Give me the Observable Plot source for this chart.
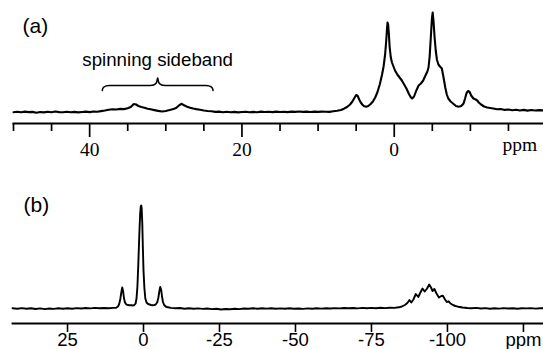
<!DOCTYPE html>
<html><head><meta charset="utf-8">
<script src="https://cdn.jsdelivr.net/npm/d3@7"></script>
<script src="https://cdn.jsdelivr.net/npm/@observablehq/plot@0.6"></script>
<style>
body{margin:0;background:#fff;}
#chart{width:543px;height:349px;position:relative;overflow:hidden;}
#chart svg{display:block;}
</style></head><body><div id="chart"></div>
<script>
// ---------- Panel (a) data: chemical shift (ppm) and intensity ----------
const specA = [
[50,0.3],[49.5,0.8],[49,0.2],[48.5,0.9],[48,0.4],[47.5,0.6],[47,-0.2],[46.5,0.5],[46,0.1],[45.5,0.7],
[45,0.3],[44.5,1.0],[44,0.4],[43.5,0.2],[43,0.8],[42.5,0.3],[42,0.6],[41.5,0.1],[41,0.5],[40.5,0.9],
[40,0.4],[39.5,1.0],[39,0.7],[38.5,1.4],[38,2.0],[37.5,2.8],[37,3.2],[36.5,3.0],[36,3.6],[35.5,3.4],
[35,4.2],[34.6,5.5],[34.2,8.5],[33.9,8.0],[33.6,6.5],[33.2,5.5],[32.8,4.8],[32.4,3.8],[32,3.2],[31.5,2.4],
[31,1.6],[30.5,1.0],[30,1.5],[29.5,2.4],[29,3.4],[28.6,4.8],[28.2,7.5],[27.9,8.7],[27.6,7.2],[27.2,5.8],
[26.8,4.8],[26.4,4.0],[26,3.4],[25.5,2.8],[25,2.0],[24.5,1.5],[24,1.2],[23.5,0.6],[23,0.9],[22.5,0.3],
[22,0.7],[21.5,0.2],[21,0.6],[20.5,0.1],[20,0.5],[19.5,0.8],[19,0.2],[18.5,0.6],[18,0.3],[17.5,0.9],
[17,0.5],[16.5,0.8],[16,0.4],[15.5,0.9],[15,0.5],[14.5,0.8],[14,0.4],[13.5,0.9],[13,0.6],[12.5,1.0],
[12,0.6],[11.5,0.9],[11,0.5],[10.5,0.9],[10,0.6],[9.5,0.9],[9,0.7],[8.5,0.6],[8,1.2],[7.5,1.8],
[7,2.5],[6.6,3.8],[6.2,5.5],[5.8,8.0],[5.5,11],[5.2,15],[5.0,17.5],[4.8,16.5],[4.6,13],[4.4,10],
[4.2,8],[4.0,6.5],[3.7,5.8],[3.4,6.5],[3.1,8.5],[2.8,11],[2.5,15],[2.2,20.5],[1.9,28],[1.6,38],
[1.4,46],[1.2,58],[1.05,72],[0.95,84],[0.88,90],[0.8,88],[0.7,78],[0.6,65],[0.45,55],[0.3,50],
[0.1,46],[-0.1,42],[-0.4,38],[-0.7,35],[-1.0,32],[-1.3,28],[-1.6,24],[-1.9,19],[-2.15,15.5],[-2.35,14],
[-2.6,16],[-2.9,22],[-3.2,27],[-3.5,29],[-3.8,32],[-4.1,37],[-4.35,41],[-4.5,45],[-4.65,56],[-4.8,75],
[-4.95,94],[-5.05,100],[-5.15,92],[-5.3,75],[-5.45,62],[-5.6,53],[-5.8,48],[-6.0,46],[-6.25,44],[-6.45,36],
[-6.7,25],[-6.9,18],[-7.1,14],[-7.4,11],[-7.8,8.5],[-8.1,6.5],[-8.45,5.8],[-8.8,6.5],[-9.1,9],[-9.3,14],
[-9.5,19.5],[-9.7,21.5],[-9.9,20.5],[-10.1,17],[-10.4,14],[-10.7,13],[-10.9,12],[-11.1,10],[-11.4,8],[-11.8,6],
[-12.2,5],[-12.6,4.5],[-13,4],[-13.5,3.2],[-14,3.5],[-14.5,2.6],[-15,3],[-15.5,2.2],[-16,2.7],[-16.5,2.0],
[-17,2.6],[-17.5,1.9],[-18,2.5],[-18.5,2.0],[-19,2.4],[-19.6,2.1]
];
const aMajorTicks = [40, 20, 0];
const aMajorLabels = ["40", "20", "0"];
const aMinorTicks = [50, 45, 35, 30, 25, 15, 10, 5, -5, -10, -15];
const aUnit = ["ppm"];
const aUnitPos = [-16.5];
const braceA = [
[38.35,22],[38.2,25],[37.8,26.6],[37.2,27],[32.3,27],[31.6,27.5],[31.25,29.5],[31.07,34.5],
[30.89,29.5],[30.54,27.5],[29.84,27],[24.94,27],[24.34,26.6],[23.94,25],[23.79,22]
];
const annotA = [{x: 31.07, y: 47, text: "spinning sideband"}];
const panelLabels = ["(a)", "(b)"];

// ---------- Panel (b) data ----------
const specB = [
[43.1,0.3],[41.5,-0.2],[40,0.4],[38.5,-0.3],[37,0.2],[35.5,-0.5],[34,0.1],[32.5,-0.6],[31,0.0],[29.5,-0.4],
[28,0.2],[26.5,-0.3],[25,0.3],[23.5,-0.2],[22,0.4],[20.5,0.0],[19,0.5],[17.5,0.1],[16,0.6],[14.5,0.2],
[13,0.5],[11.5,0.3],[10,0.6],[9,0.8],[8.4,2.0],[8.0,4.5],[7.6,10],[7.3,16],[7.0,21],[6.7,17],
[6.4,10],[6.1,6],[5.7,4.2],[5.2,3.5],[4.6,3.3],[4.0,3.2],[3.5,3.0],[3.0,3.5],[2.6,5],[2.3,10],
[2.0,22],[1.7,45],[1.4,72],[1.1,95],[0.9,102],[0.75,103],[0.6,100],[0.4,85],[0.2,60],[0.0,38],
[-0.3,20],[-0.6,10],[-1.0,6],[-1.5,4.5],[-2.0,4],[-2.5,3.5],[-3.0,3.3],[-3.5,3.4],[-4.0,4],[-4.5,6],
[-4.9,11],[-5.2,17],[-5.5,21.5],[-5.8,19],[-6.1,12],[-6.4,6.5],[-6.8,3.5],[-7.3,2],[-8,1.2],[-9,0.6],
[-10.5,0.2],[-12,0.5],[-13.5,-0.2],[-15,0.3],[-16.5,-0.3],[-18,0.1],[-19.5,-0.4],[-21,0.0],[-22.5,-0.6],[-24,-0.3],
[-25.5,-1.0],[-27,-0.5],[-28.5,-0.8],[-30,-0.2],[-31.5,-0.6],[-33,0.0],[-34.5,-0.3],[-36,0.2],[-37.5,-0.2],[-39,0.3],
[-40.5,-0.1],[-42,0.3],[-43.5,-0.2],[-45,0.1],[-46.5,-0.3],[-48,0.2],[-49.5,-0.2],[-51,0.0],[-52.5,-0.4],[-54,0.1],
[-55.5,-0.2],[-57,0.2],[-58.5,-0.1],[-60,0.3],[-61.5,0.0],[-63,0.4],[-64.5,0.1],[-66,0.5],[-67.5,0.2],[-69,0.5],
[-70.5,0.1],[-72,0.6],[-73.5,0.3],[-75,0.6],[-76.5,0.3],[-78,0.7],[-79.5,0.4],[-81,0.8],[-82.5,0.6],[-84,1.2],
[-85,2],[-86,3.5],[-86.8,5.5],[-87.5,8.5],[-88.1,6],[-88.8,9],[-89.6,14.5],[-90.4,11.5],[-91.1,16],[-91.8,20],
[-92.5,17],[-93.3,20],[-94.0,24],[-94.6,21],[-95.1,17.5],[-95.7,19.5],[-96.4,15],[-97.2,11],[-98.0,12.5],[-98.5,12.8],
[-99.2,9],[-99.8,6.5],[-100.4,7.2],[-101,5],[-101.8,3.5],[-102.6,2.5],[-103.5,1.8],[-105,1],[-106.5,0.5],[-108,0.2],
[-109.5,0.6],[-111,0.0],[-112.5,0.4],[-114,-0.2],[-115.5,0.3],[-117,-0.1],[-118.5,0.4],[-120,0.0],[-121.5,0.3],[-123,-0.2],
[-124.5,0.3],[-126,0.1],[-127.5,0.4],[-129,-0.1],[-130.5,0.3],[-131.6,0.2]
];
const bTicks = [25, 0, -25, -50, -75, -100, -125];
const bTickLabels = ["25", "0", "-25", "-50", "-75", "-100", "ppm"];

const sans = "'Liberation Sans', Arial, Helvetica, sans-serif";
const serif = "'Liberation Serif', 'Times New Roman', serif";

const plotA = Plot.plot({
  width: 543, height: 175,
  marginLeft: 13, marginRight: 0, marginTop: 0, marginBottom: 52,
  style: {background: "white", overflow: "visible"},
  x: {domain: [50, -19.6]},
  y: {domain: [0, 100], range: [112, 12], axis: null},
  marks: [
    Plot.frame({anchor: "bottom", stroke: "black", strokeWidth: 2}),
    Plot.axisX(aMinorTicks, {tickSize: 8, strokeWidth: 1.7, tickFormat: () => "", label: null}),
    Plot.axisX(aMajorTicks, {tickSize: 14, strokeWidth: 1.7, tickFormat: () => "", label: null}),
    Plot.text(aMajorTicks, {x: d => d, text: (d, i) => aMajorLabels[i], frameAnchor: "bottom", dy: 32,
      lineAnchor: "bottom", fontFamily: serif, fontSize: 19.5, fill: "black"}),
    Plot.text(aUnit, {x: (d, i) => aUnitPos[i], text: d => d, frameAnchor: "bottom", dy: 27,
      lineAnchor: "bottom", fontFamily: serif, fontSize: 19.5, fill: "black"}),
    Plot.line(specA, {x: d => d[0], y: d => d[1], stroke: "black", strokeWidth: 2.1, strokeLinejoin: "round"}),
    Plot.line(braceA, {x: d => d[0], y: d => d[1], stroke: "black", strokeWidth: 1.5, curve: "catmull-rom"}),
    Plot.text(annotA, {x: "x", y: "y", text: "text", lineAnchor: "bottom", fontFamily: sans, fontSize: 18.7, fill: "black"}),
    Plot.text([panelLabels[0]], {frameAnchor: "top-left", dx: 9, dy: 32, textAnchor: "start", lineAnchor: "bottom",
      fontFamily: sans, fontSize: 21, fill: "black"})
  ]
});

const plotB = Plot.plot({
  width: 543, height: 174,
  marginLeft: 12, marginRight: 0, marginTop: 0, marginBottom: 26,
  style: {background: "white", overflow: "visible"},
  x: {domain: [43.1, -131.6]},
  y: {domain: [0, 103], range: [133, 30], axis: null},
  marks: [
    Plot.frame({anchor: "bottom", stroke: "black", strokeWidth: 1.8}),
    Plot.axisX(bTicks, {tickSize: 9, strokeWidth: 1.6, tickFormat: () => "", label: null}),
    Plot.text(bTicks, {x: d => d, text: (d, i) => bTickLabels[i], frameAnchor: "bottom", dy: 22,
      lineAnchor: "bottom", fontFamily: sans, fontSize: 18.5, fill: "black"}),
    Plot.line(specB, {x: d => d[0], y: d => d[1], stroke: "black", strokeWidth: 1.9, strokeLinejoin: "round"}),
    Plot.text([panelLabels[1]], {frameAnchor: "top-left", dx: 11, dy: 36, textAnchor: "start", lineAnchor: "bottom",
      fontFamily: sans, fontSize: 21, fill: "black"})
  ]
});

const chart = document.getElementById("chart");
chart.appendChild(plotA);
chart.appendChild(plotB);
</script>
</body></html>
